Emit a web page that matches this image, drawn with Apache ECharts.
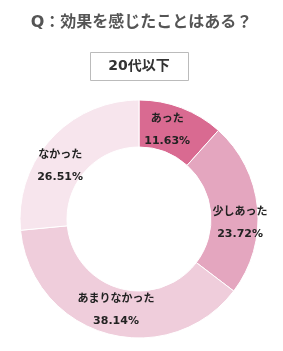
<!DOCTYPE html>
<html>
<head>
<meta charset="utf-8">
<script src="https://cdn.jsdelivr.net/npm/echarts@6/dist/echarts.min.js"></script>
<style>
  html, body { margin: 0; padding: 0; background: #fff; }
  #main { width: 283px; height: 351px; }
</style>
</head>
<body>
<div id="main"></div>
<script>
// answers, clockwise from the top
const answers = ['あった', '少しあった', 'あまりなかった', 'なかった'];
const shares = [11.63, 23.72, 38.14, 26.51];
const sliceColors = ['#d96a91', '#e4a6bf', '#efcddb', '#f7e5ed'];

const titleText = 'Q：効果を感じたことはある？';
const groupText = '20代以下';

// nudges so the labels sit where the original put them
const labelNudge = [[-7, 3], [3, 13], [4, -4], [-6, 13]];

let chartDom = document.getElementById('main');
let myChart = echarts.init(chartDom);

const font = '"DejaVu Sans", "Noto Sans CJK JP", sans-serif';

const option = {
  title: {
    text: titleText,
    left: 'center',
    top: 10,
    textStyle: { fontFamily: font, fontSize: 16, fontWeight: 'bold', color: '#555' }
  },
  graphic: [
    {
      type: 'rect',
      shape: { x: 90.5, y: 52.5, width: 98, height: 28 },
      style: { fill: '#fff', stroke: '#bbb', lineWidth: 1 }
    },
    {
      type: 'text',
      x: 139,
      y: 66.5,
      style: {
        text: groupText,
        fontFamily: font,
        fontSize: 14,
        fontWeight: 'bold',
        fill: '#333',
        align: 'center',
        verticalAlign: 'middle'
      }
    }
  ],
  series: [
    {
      type: 'pie',
      center: [139, 219],
      radius: [72, 119],
      startAngle: 90,
      clockwise: true,
      silent: true,
      itemStyle: { borderColor: '#fff', borderWidth: 1 },
      label: {
        position: 'inside',
        formatter: (p) => p.name + '\n' + p.value.toFixed(2) + '%',
        fontFamily: font,
        fontSize: 11,
        fontWeight: 'bold',
        color: '#222',
        lineHeight: 22
      },
      labelLine: { show: false },
      data: answers.map((name, i) => ({
        name: name,
        value: shares[i],
        itemStyle: { color: sliceColors[i] },
        label: { offset: labelNudge[i] }
      }))
    }
  ]
};

myChart.setOption(option);
</script>
</body>
</html>
